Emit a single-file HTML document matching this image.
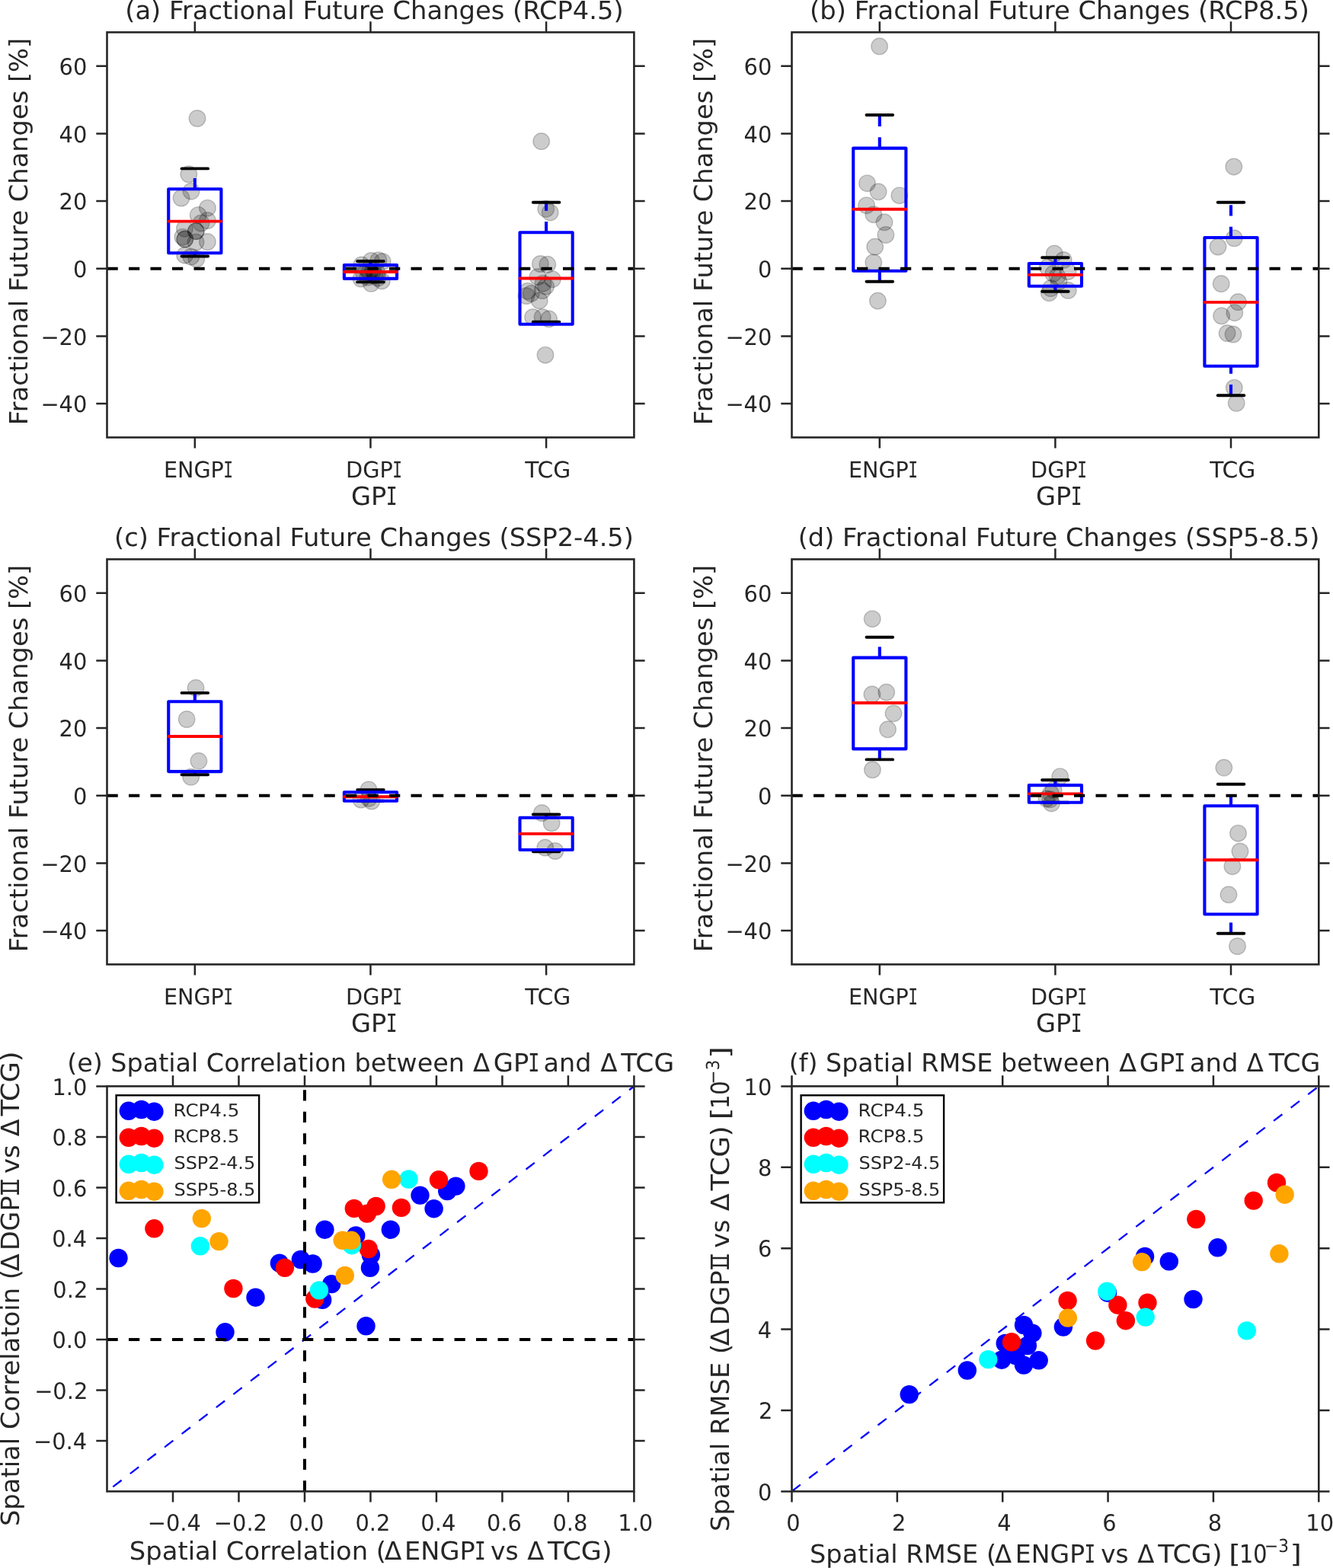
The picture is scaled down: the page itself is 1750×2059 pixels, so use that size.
<!DOCTYPE html>
<html><head><meta charset="utf-8"><title>Fractional Future Changes</title><style>html,body{margin:0;padding:0;background:#fff;}svg{display:block;}</style></head><body>
<svg width="1750" height="2059" viewBox="0 0 1750 2059" font-family="'DejaVu Sans', 'Liberation Sans', sans-serif" text-rendering="geometricPrecision">
<rect width="1750" height="2059" fill="#ffffff"/>
<defs>
<clipPath id="cA"><rect x="140.5" y="42.4" width="691.9" height="532"/></clipPath>
<clipPath id="cB"><rect x="1039.5" y="42.4" width="691.8" height="532"/></clipPath>
<clipPath id="cC"><rect x="140.5" y="734.4" width="691.9" height="532"/></clipPath>
<clipPath id="cD"><rect x="1039.5" y="734.4" width="691.8" height="532"/></clipPath>
<clipPath id="cE"><rect x="140.5" y="1426.4" width="691.9" height="532"/></clipPath>
<clipPath id="cF"><rect x="1039.5" y="1426.4" width="691.8" height="532"/></clipPath>
</defs>
<g clip-path="url(#cA)">
<circle cx="259" cy="155.5" r="10.8" fill="#000" fill-opacity="0.2" stroke="#000" stroke-opacity="0.2" stroke-width="1.4"/>
<circle cx="247.8" cy="228.8" r="10.8" fill="#000" fill-opacity="0.2" stroke="#000" stroke-opacity="0.2" stroke-width="1.4"/>
<circle cx="251" cy="251.2" r="10.8" fill="#000" fill-opacity="0.2" stroke="#000" stroke-opacity="0.2" stroke-width="1.4"/>
<circle cx="238" cy="260" r="10.8" fill="#000" fill-opacity="0.2" stroke="#000" stroke-opacity="0.2" stroke-width="1.4"/>
<circle cx="272.4" cy="273.2" r="10.8" fill="#000" fill-opacity="0.2" stroke="#000" stroke-opacity="0.2" stroke-width="1.4"/>
<circle cx="260.2" cy="282.4" r="10.8" fill="#000" fill-opacity="0.2" stroke="#000" stroke-opacity="0.2" stroke-width="1.4"/>
<circle cx="272.4" cy="289.6" r="10.8" fill="#000" fill-opacity="0.2" stroke="#000" stroke-opacity="0.2" stroke-width="1.4"/>
<circle cx="264" cy="293" r="10.8" fill="#000" fill-opacity="0.2" stroke="#000" stroke-opacity="0.2" stroke-width="1.4"/>
<circle cx="242.4" cy="300.2" r="10.8" fill="#000" fill-opacity="0.2" stroke="#000" stroke-opacity="0.2" stroke-width="1.4"/>
<circle cx="257.3" cy="303.6" r="10.8" fill="#000" fill-opacity="0.2" stroke="#000" stroke-opacity="0.2" stroke-width="1.4"/>
<circle cx="257.3" cy="303.6" r="10.8" fill="#000" fill-opacity="0.2" stroke="#000" stroke-opacity="0.2" stroke-width="1.4"/>
<circle cx="239.8" cy="311.2" r="10.8" fill="#000" fill-opacity="0.2" stroke="#000" stroke-opacity="0.2" stroke-width="1.4"/>
<circle cx="242.8" cy="314.1" r="10.8" fill="#000" fill-opacity="0.2" stroke="#000" stroke-opacity="0.2" stroke-width="1.4"/>
<circle cx="242.8" cy="314.1" r="10.8" fill="#000" fill-opacity="0.2" stroke="#000" stroke-opacity="0.2" stroke-width="1.4"/>
<circle cx="257" cy="318" r="10.8" fill="#000" fill-opacity="0.2" stroke="#000" stroke-opacity="0.2" stroke-width="1.4"/>
<circle cx="272.4" cy="317.6" r="10.8" fill="#000" fill-opacity="0.2" stroke="#000" stroke-opacity="0.2" stroke-width="1.4"/>
<circle cx="242.6" cy="335.2" r="10.8" fill="#000" fill-opacity="0.2" stroke="#000" stroke-opacity="0.2" stroke-width="1.4"/>
<circle cx="250.8" cy="337.2" r="10.8" fill="#000" fill-opacity="0.2" stroke="#000" stroke-opacity="0.2" stroke-width="1.4"/>
<circle cx="257.8" cy="340" r="10.8" fill="#000" fill-opacity="0.2" stroke="#000" stroke-opacity="0.2" stroke-width="1.4"/>
<circle cx="474.7" cy="347.9" r="10.8" fill="#000" fill-opacity="0.2" stroke="#000" stroke-opacity="0.2" stroke-width="1.4"/>
<circle cx="487.3" cy="342.4" r="10.8" fill="#000" fill-opacity="0.2" stroke="#000" stroke-opacity="0.2" stroke-width="1.4"/>
<circle cx="496.9" cy="341.7" r="10.8" fill="#000" fill-opacity="0.2" stroke="#000" stroke-opacity="0.2" stroke-width="1.4"/>
<circle cx="502.2" cy="343.5" r="10.8" fill="#000" fill-opacity="0.2" stroke="#000" stroke-opacity="0.2" stroke-width="1.4"/>
<circle cx="480" cy="352" r="10.8" fill="#000" fill-opacity="0.2" stroke="#000" stroke-opacity="0.2" stroke-width="1.4"/>
<circle cx="490" cy="355" r="10.8" fill="#000" fill-opacity="0.2" stroke="#000" stroke-opacity="0.2" stroke-width="1.4"/>
<circle cx="485" cy="358" r="10.8" fill="#000" fill-opacity="0.2" stroke="#000" stroke-opacity="0.2" stroke-width="1.4"/>
<circle cx="495" cy="358" r="10.8" fill="#000" fill-opacity="0.2" stroke="#000" stroke-opacity="0.2" stroke-width="1.4"/>
<circle cx="478" cy="360" r="10.8" fill="#000" fill-opacity="0.2" stroke="#000" stroke-opacity="0.2" stroke-width="1.4"/>
<circle cx="492" cy="362" r="10.8" fill="#000" fill-opacity="0.2" stroke="#000" stroke-opacity="0.2" stroke-width="1.4"/>
<circle cx="483" cy="364" r="10.8" fill="#000" fill-opacity="0.2" stroke="#000" stroke-opacity="0.2" stroke-width="1.4"/>
<circle cx="473.9" cy="366.1" r="10.8" fill="#000" fill-opacity="0.2" stroke="#000" stroke-opacity="0.2" stroke-width="1.4"/>
<circle cx="487.3" cy="372.3" r="10.8" fill="#000" fill-opacity="0.2" stroke="#000" stroke-opacity="0.2" stroke-width="1.4"/>
<circle cx="501.3" cy="368.9" r="10.8" fill="#000" fill-opacity="0.2" stroke="#000" stroke-opacity="0.2" stroke-width="1.4"/>
<circle cx="496" cy="365" r="10.8" fill="#000" fill-opacity="0.2" stroke="#000" stroke-opacity="0.2" stroke-width="1.4"/>
<circle cx="710.7" cy="185.6" r="10.8" fill="#000" fill-opacity="0.2" stroke="#000" stroke-opacity="0.2" stroke-width="1.4"/>
<circle cx="716.7" cy="274.3" r="10.8" fill="#000" fill-opacity="0.2" stroke="#000" stroke-opacity="0.2" stroke-width="1.4"/>
<circle cx="722.2" cy="278.9" r="10.8" fill="#000" fill-opacity="0.2" stroke="#000" stroke-opacity="0.2" stroke-width="1.4"/>
<circle cx="709.4" cy="346.5" r="10.8" fill="#000" fill-opacity="0.2" stroke="#000" stroke-opacity="0.2" stroke-width="1.4"/>
<circle cx="718.8" cy="347.3" r="10.8" fill="#000" fill-opacity="0.2" stroke="#000" stroke-opacity="0.2" stroke-width="1.4"/>
<circle cx="705.9" cy="363.6" r="10.8" fill="#000" fill-opacity="0.2" stroke="#000" stroke-opacity="0.2" stroke-width="1.4"/>
<circle cx="725.3" cy="366.7" r="10.8" fill="#000" fill-opacity="0.2" stroke="#000" stroke-opacity="0.2" stroke-width="1.4"/>
<circle cx="712.9" cy="372.2" r="10.8" fill="#000" fill-opacity="0.2" stroke="#000" stroke-opacity="0.2" stroke-width="1.4"/>
<circle cx="716.7" cy="376.1" r="10.8" fill="#000" fill-opacity="0.2" stroke="#000" stroke-opacity="0.2" stroke-width="1.4"/>
<circle cx="692.6" cy="382.3" r="10.8" fill="#000" fill-opacity="0.2" stroke="#000" stroke-opacity="0.2" stroke-width="1.4"/>
<circle cx="697.3" cy="385.4" r="10.8" fill="#000" fill-opacity="0.2" stroke="#000" stroke-opacity="0.2" stroke-width="1.4"/>
<circle cx="712.1" cy="381.5" r="10.8" fill="#000" fill-opacity="0.2" stroke="#000" stroke-opacity="0.2" stroke-width="1.4"/>
<circle cx="708.2" cy="394.7" r="10.8" fill="#000" fill-opacity="0.2" stroke="#000" stroke-opacity="0.2" stroke-width="1.4"/>
<circle cx="691.1" cy="388.5" r="10.8" fill="#000" fill-opacity="0.2" stroke="#000" stroke-opacity="0.2" stroke-width="1.4"/>
<circle cx="699.6" cy="416.5" r="10.8" fill="#000" fill-opacity="0.2" stroke="#000" stroke-opacity="0.2" stroke-width="1.4"/>
<circle cx="712.1" cy="416.5" r="10.8" fill="#000" fill-opacity="0.2" stroke="#000" stroke-opacity="0.2" stroke-width="1.4"/>
<circle cx="720.6" cy="418.8" r="10.8" fill="#000" fill-opacity="0.2" stroke="#000" stroke-opacity="0.2" stroke-width="1.4"/>
<circle cx="716" cy="466.2" r="10.8" fill="#000" fill-opacity="0.2" stroke="#000" stroke-opacity="0.2" stroke-width="1.4"/>
</g>
<path d="M255.82,248.2V221.4" stroke="#0000ff" stroke-width="4.1" stroke-dasharray="14.25 14.25" fill="none"/>
<path d="M255.82,336.5V332.2" stroke="#0000ff" stroke-width="4.1" stroke-dasharray="14.25 14.25" fill="none"/>
<path d="M238.52,221.4H273.11M238.52,336.5H273.11" stroke="#000" stroke-width="3.9" stroke-linecap="round" fill="none"/>
<rect x="221.22" y="248.2" width="69.19" height="84" fill="none" stroke="#0000ff" stroke-width="4.1" stroke-linejoin="round"/>
<path d="M221.22,290.6H290.41" stroke="#ff0000" stroke-width="3.9" stroke-linecap="round"/>
<path d="M486.45,348.1V343" stroke="#0000ff" stroke-width="4.1" stroke-dasharray="14.25 14.25" fill="none"/>
<path d="M486.45,370.4V365.9" stroke="#0000ff" stroke-width="4.1" stroke-dasharray="14.25 14.25" fill="none"/>
<path d="M469.15,343H503.75M469.15,370.4H503.75" stroke="#000" stroke-width="3.9" stroke-linecap="round" fill="none"/>
<rect x="451.86" y="348.1" width="69.19" height="17.8" fill="none" stroke="#0000ff" stroke-width="4.1" stroke-linejoin="round"/>
<path d="M451.86,357H521.04" stroke="#ff0000" stroke-width="3.9" stroke-linecap="round"/>
<path d="M717.08,305.3V265.7" stroke="#0000ff" stroke-width="4.1" stroke-dasharray="14.25 14.25" fill="none"/>
<path d="M699.79,265.7H734.38M699.79,422.7H734.38" stroke="#000" stroke-width="3.9" stroke-linecap="round" fill="none"/>
<rect x="682.49" y="305.3" width="69.19" height="120.5" fill="none" stroke="#0000ff" stroke-width="4.1" stroke-linejoin="round"/>
<path d="M682.49,365.5H751.68" stroke="#ff0000" stroke-width="3.9" stroke-linecap="round"/>
<path clip-path="url(#cA)" d="M140.5,352.73H832.4" stroke="#000" stroke-width="4" stroke-dasharray="14.25 14.25" fill="none"/>
<path d="M255.82,574.4v14.2M255.82,42.4v-14.2M486.45,574.4v14.2M486.45,42.4v-14.2M717.08,574.4v14.2M717.08,42.4v-14.2M140.5,530.07h-14.2M832.4,530.07h14.2M140.5,441.4h-14.2M832.4,441.4h14.2M140.5,352.73h-14.2M832.4,352.73h14.2M140.5,264.07h-14.2M832.4,264.07h14.2M140.5,175.4h-14.2M832.4,175.4h14.2M140.5,86.73h-14.2M832.4,86.73h14.2" stroke="#262626" stroke-width="2.5" fill="none"/>
<rect x="140.5" y="42.4" width="691.9" height="532" fill="none" stroke="#262626" stroke-width="2.6" stroke-linejoin="miter" stroke-linecap="square"/>
<g clip-path="url(#cB)">
<circle cx="1154.6" cy="60.8" r="10.8" fill="#000" fill-opacity="0.2" stroke="#000" stroke-opacity="0.2" stroke-width="1.4"/>
<circle cx="1138.5" cy="240.7" r="10.8" fill="#000" fill-opacity="0.2" stroke="#000" stroke-opacity="0.2" stroke-width="1.4"/>
<circle cx="1153.1" cy="251.8" r="10.8" fill="#000" fill-opacity="0.2" stroke="#000" stroke-opacity="0.2" stroke-width="1.4"/>
<circle cx="1180.8" cy="256.7" r="10.8" fill="#000" fill-opacity="0.2" stroke="#000" stroke-opacity="0.2" stroke-width="1.4"/>
<circle cx="1137.6" cy="269.7" r="10.8" fill="#000" fill-opacity="0.2" stroke="#000" stroke-opacity="0.2" stroke-width="1.4"/>
<circle cx="1146.8" cy="281.7" r="10.8" fill="#000" fill-opacity="0.2" stroke="#000" stroke-opacity="0.2" stroke-width="1.4"/>
<circle cx="1161" cy="291.8" r="10.8" fill="#000" fill-opacity="0.2" stroke="#000" stroke-opacity="0.2" stroke-width="1.4"/>
<circle cx="1162.9" cy="308.4" r="10.8" fill="#000" fill-opacity="0.2" stroke="#000" stroke-opacity="0.2" stroke-width="1.4"/>
<circle cx="1148.7" cy="324.1" r="10.8" fill="#000" fill-opacity="0.2" stroke="#000" stroke-opacity="0.2" stroke-width="1.4"/>
<circle cx="1146.8" cy="344.7" r="10.8" fill="#000" fill-opacity="0.2" stroke="#000" stroke-opacity="0.2" stroke-width="1.4"/>
<circle cx="1152.4" cy="395.1" r="10.8" fill="#000" fill-opacity="0.2" stroke="#000" stroke-opacity="0.2" stroke-width="1.4"/>
<circle cx="1384.2" cy="333" r="10.8" fill="#000" fill-opacity="0.2" stroke="#000" stroke-opacity="0.2" stroke-width="1.4"/>
<circle cx="1396.2" cy="341.5" r="10.8" fill="#000" fill-opacity="0.2" stroke="#000" stroke-opacity="0.2" stroke-width="1.4"/>
<circle cx="1375.3" cy="351.1" r="10.8" fill="#000" fill-opacity="0.2" stroke="#000" stroke-opacity="0.2" stroke-width="1.4"/>
<circle cx="1402" cy="356.6" r="10.8" fill="#000" fill-opacity="0.2" stroke="#000" stroke-opacity="0.2" stroke-width="1.4"/>
<circle cx="1382.8" cy="359.4" r="10.8" fill="#000" fill-opacity="0.2" stroke="#000" stroke-opacity="0.2" stroke-width="1.4"/>
<circle cx="1388" cy="363" r="10.8" fill="#000" fill-opacity="0.2" stroke="#000" stroke-opacity="0.2" stroke-width="1.4"/>
<circle cx="1379.4" cy="378.6" r="10.8" fill="#000" fill-opacity="0.2" stroke="#000" stroke-opacity="0.2" stroke-width="1.4"/>
<circle cx="1377.3" cy="384.7" r="10.8" fill="#000" fill-opacity="0.2" stroke="#000" stroke-opacity="0.2" stroke-width="1.4"/>
<circle cx="1402.3" cy="381.3" r="10.8" fill="#000" fill-opacity="0.2" stroke="#000" stroke-opacity="0.2" stroke-width="1.4"/>
<circle cx="1390" cy="370" r="10.8" fill="#000" fill-opacity="0.2" stroke="#000" stroke-opacity="0.2" stroke-width="1.4"/>
<circle cx="1619.8" cy="218.9" r="10.8" fill="#000" fill-opacity="0.2" stroke="#000" stroke-opacity="0.2" stroke-width="1.4"/>
<circle cx="1620.3" cy="312.8" r="10.8" fill="#000" fill-opacity="0.2" stroke="#000" stroke-opacity="0.2" stroke-width="1.4"/>
<circle cx="1599" cy="324" r="10.8" fill="#000" fill-opacity="0.2" stroke="#000" stroke-opacity="0.2" stroke-width="1.4"/>
<circle cx="1603.2" cy="372.6" r="10.8" fill="#000" fill-opacity="0.2" stroke="#000" stroke-opacity="0.2" stroke-width="1.4"/>
<circle cx="1625.4" cy="396.6" r="10.8" fill="#000" fill-opacity="0.2" stroke="#000" stroke-opacity="0.2" stroke-width="1.4"/>
<circle cx="1620.8" cy="410.7" r="10.8" fill="#000" fill-opacity="0.2" stroke="#000" stroke-opacity="0.2" stroke-width="1.4"/>
<circle cx="1603.6" cy="414.8" r="10.8" fill="#000" fill-opacity="0.2" stroke="#000" stroke-opacity="0.2" stroke-width="1.4"/>
<circle cx="1611.1" cy="437.6" r="10.8" fill="#000" fill-opacity="0.2" stroke="#000" stroke-opacity="0.2" stroke-width="1.4"/>
<circle cx="1619" cy="439.1" r="10.8" fill="#000" fill-opacity="0.2" stroke="#000" stroke-opacity="0.2" stroke-width="1.4"/>
<circle cx="1620.3" cy="509.2" r="10.8" fill="#000" fill-opacity="0.2" stroke="#000" stroke-opacity="0.2" stroke-width="1.4"/>
<circle cx="1623.2" cy="529.3" r="10.8" fill="#000" fill-opacity="0.2" stroke="#000" stroke-opacity="0.2" stroke-width="1.4"/>
</g>
<path d="M1154.8,194.6V151" stroke="#0000ff" stroke-width="4.1" stroke-dasharray="14.25 14.25" fill="none"/>
<path d="M1154.8,369.8V355.8" stroke="#0000ff" stroke-width="4.1" stroke-dasharray="14.25 14.25" fill="none"/>
<path d="M1137.5,151H1172.1M1137.5,369.8H1172.1" stroke="#000" stroke-width="3.9" stroke-linecap="round" fill="none"/>
<rect x="1120.21" y="194.6" width="69.18" height="161.2" fill="none" stroke="#0000ff" stroke-width="4.1" stroke-linejoin="round"/>
<path d="M1120.21,274.8H1189.39" stroke="#ff0000" stroke-width="3.9" stroke-linecap="round"/>
<path d="M1385.4,346V338.3" stroke="#0000ff" stroke-width="4.1" stroke-dasharray="14.25 14.25" fill="none"/>
<path d="M1385.4,382.8V375.8" stroke="#0000ff" stroke-width="4.1" stroke-dasharray="14.25 14.25" fill="none"/>
<path d="M1368.11,338.3H1402.7M1368.11,382.8H1402.7" stroke="#000" stroke-width="3.9" stroke-linecap="round" fill="none"/>
<rect x="1350.81" y="346" width="69.18" height="29.8" fill="none" stroke="#0000ff" stroke-width="4.1" stroke-linejoin="round"/>
<path d="M1350.81,360.9H1419.99" stroke="#ff0000" stroke-width="3.9" stroke-linecap="round"/>
<path d="M1616,312V265.7" stroke="#0000ff" stroke-width="4.1" stroke-dasharray="14.25 14.25" fill="none"/>
<path d="M1616,519.3V480.7" stroke="#0000ff" stroke-width="4.1" stroke-dasharray="14.25 14.25" fill="none"/>
<path d="M1598.7,265.7H1633.3M1598.7,519.3H1633.3" stroke="#000" stroke-width="3.9" stroke-linecap="round" fill="none"/>
<rect x="1581.41" y="312" width="69.18" height="168.7" fill="none" stroke="#0000ff" stroke-width="4.1" stroke-linejoin="round"/>
<path d="M1581.41,396.9H1650.59" stroke="#ff0000" stroke-width="3.9" stroke-linecap="round"/>
<path clip-path="url(#cB)" d="M1039.5,352.73H1731.3" stroke="#000" stroke-width="4" stroke-dasharray="14.25 14.25" fill="none"/>
<path d="M1154.8,574.4v14.2M1154.8,42.4v-14.2M1385.4,574.4v14.2M1385.4,42.4v-14.2M1616,574.4v14.2M1616,42.4v-14.2M1039.5,530.07h-14.2M1731.3,530.07h14.2M1039.5,441.4h-14.2M1731.3,441.4h14.2M1039.5,352.73h-14.2M1731.3,352.73h14.2M1039.5,264.07h-14.2M1731.3,264.07h14.2M1039.5,175.4h-14.2M1731.3,175.4h14.2M1039.5,86.73h-14.2M1731.3,86.73h14.2" stroke="#262626" stroke-width="2.5" fill="none"/>
<rect x="1039.5" y="42.4" width="691.8" height="532" fill="none" stroke="#262626" stroke-width="2.6" stroke-linejoin="miter" stroke-linecap="square"/>
<g clip-path="url(#cC)">
<circle cx="257" cy="903.3" r="10.8" fill="#000" fill-opacity="0.2" stroke="#000" stroke-opacity="0.2" stroke-width="1.4"/>
<circle cx="245.2" cy="944.5" r="10.8" fill="#000" fill-opacity="0.2" stroke="#000" stroke-opacity="0.2" stroke-width="1.4"/>
<circle cx="260.9" cy="999.3" r="10.8" fill="#000" fill-opacity="0.2" stroke="#000" stroke-opacity="0.2" stroke-width="1.4"/>
<circle cx="250.7" cy="1020.3" r="10.8" fill="#000" fill-opacity="0.2" stroke="#000" stroke-opacity="0.2" stroke-width="1.4"/>
<circle cx="484" cy="1036.9" r="10.8" fill="#000" fill-opacity="0.2" stroke="#000" stroke-opacity="0.2" stroke-width="1.4"/>
<circle cx="473.9" cy="1050" r="10.8" fill="#000" fill-opacity="0.2" stroke="#000" stroke-opacity="0.2" stroke-width="1.4"/>
<circle cx="487.9" cy="1052" r="10.8" fill="#000" fill-opacity="0.2" stroke="#000" stroke-opacity="0.2" stroke-width="1.4"/>
<circle cx="484.2" cy="1048.4" r="10.8" fill="#000" fill-opacity="0.2" stroke="#000" stroke-opacity="0.2" stroke-width="1.4"/>
<circle cx="711.4" cy="1067.5" r="10.8" fill="#000" fill-opacity="0.2" stroke="#000" stroke-opacity="0.2" stroke-width="1.4"/>
<circle cx="724.1" cy="1080.9" r="10.8" fill="#000" fill-opacity="0.2" stroke="#000" stroke-opacity="0.2" stroke-width="1.4"/>
<circle cx="715.7" cy="1113.1" r="10.8" fill="#000" fill-opacity="0.2" stroke="#000" stroke-opacity="0.2" stroke-width="1.4"/>
<circle cx="728.9" cy="1117.5" r="10.8" fill="#000" fill-opacity="0.2" stroke="#000" stroke-opacity="0.2" stroke-width="1.4"/>
</g>
<path d="M255.82,921.2V909.9" stroke="#0000ff" stroke-width="4.1" stroke-dasharray="14.25 14.25" fill="none"/>
<path d="M255.82,1017.2V1013.1" stroke="#0000ff" stroke-width="4.1" stroke-dasharray="14.25 14.25" fill="none"/>
<path d="M238.52,909.9H273.11M238.52,1017.2H273.11" stroke="#000" stroke-width="3.9" stroke-linecap="round" fill="none"/>
<rect x="221.22" y="921.2" width="69.19" height="91.9" fill="none" stroke="#0000ff" stroke-width="4.1" stroke-linejoin="round"/>
<path d="M221.22,967H290.41" stroke="#ff0000" stroke-width="3.9" stroke-linecap="round"/>
<path d="M486.45,1040.2V1037.1" stroke="#0000ff" stroke-width="4.1" stroke-dasharray="14.25 14.25" fill="none"/>
<path d="M469.15,1037.1H503.75M469.15,1051.8H503.75" stroke="#000" stroke-width="3.9" stroke-linecap="round" fill="none"/>
<rect x="451.86" y="1040.2" width="69.19" height="11.6" fill="none" stroke="#0000ff" stroke-width="4.1" stroke-linejoin="round"/>
<path d="M451.86,1046.3H521.04" stroke="#ff0000" stroke-width="3.9" stroke-linecap="round"/>
<path d="M717.08,1073.8V1069.5" stroke="#0000ff" stroke-width="4.1" stroke-dasharray="14.25 14.25" fill="none"/>
<path d="M717.08,1118.2V1116" stroke="#0000ff" stroke-width="4.1" stroke-dasharray="14.25 14.25" fill="none"/>
<path d="M699.79,1069.5H734.38M699.79,1118.2H734.38" stroke="#000" stroke-width="3.9" stroke-linecap="round" fill="none"/>
<rect x="682.49" y="1073.8" width="69.19" height="42.2" fill="none" stroke="#0000ff" stroke-width="4.1" stroke-linejoin="round"/>
<path d="M682.49,1094.9H751.68" stroke="#ff0000" stroke-width="3.9" stroke-linecap="round"/>
<path clip-path="url(#cC)" d="M140.5,1044.73H832.4" stroke="#000" stroke-width="4" stroke-dasharray="14.25 14.25" fill="none"/>
<path d="M255.82,1266.4v14.2M255.82,734.4v-14.2M486.45,1266.4v14.2M486.45,734.4v-14.2M717.08,1266.4v14.2M717.08,734.4v-14.2M140.5,1222.07h-14.2M832.4,1222.07h14.2M140.5,1133.4h-14.2M832.4,1133.4h14.2M140.5,1044.73h-14.2M832.4,1044.73h14.2M140.5,956.07h-14.2M832.4,956.07h14.2M140.5,867.4h-14.2M832.4,867.4h14.2M140.5,778.73h-14.2M832.4,778.73h14.2" stroke="#262626" stroke-width="2.5" fill="none"/>
<rect x="140.5" y="734.4" width="691.9" height="532" fill="none" stroke="#262626" stroke-width="2.6" stroke-linejoin="miter" stroke-linecap="square"/>
<g clip-path="url(#cD)">
<circle cx="1145.2" cy="812.7" r="10.8" fill="#000" fill-opacity="0.2" stroke="#000" stroke-opacity="0.2" stroke-width="1.4"/>
<circle cx="1144.9" cy="911.8" r="10.8" fill="#000" fill-opacity="0.2" stroke="#000" stroke-opacity="0.2" stroke-width="1.4"/>
<circle cx="1163.7" cy="909.1" r="10.8" fill="#000" fill-opacity="0.2" stroke="#000" stroke-opacity="0.2" stroke-width="1.4"/>
<circle cx="1173" cy="936.8" r="10.8" fill="#000" fill-opacity="0.2" stroke="#000" stroke-opacity="0.2" stroke-width="1.4"/>
<circle cx="1165.5" cy="957.8" r="10.8" fill="#000" fill-opacity="0.2" stroke="#000" stroke-opacity="0.2" stroke-width="1.4"/>
<circle cx="1145.4" cy="1010.8" r="10.8" fill="#000" fill-opacity="0.2" stroke="#000" stroke-opacity="0.2" stroke-width="1.4"/>
<circle cx="1391.7" cy="1019.7" r="10.8" fill="#000" fill-opacity="0.2" stroke="#000" stroke-opacity="0.2" stroke-width="1.4"/>
<circle cx="1383.1" cy="1037.2" r="10.8" fill="#000" fill-opacity="0.2" stroke="#000" stroke-opacity="0.2" stroke-width="1.4"/>
<circle cx="1379.4" cy="1042" r="10.8" fill="#000" fill-opacity="0.2" stroke="#000" stroke-opacity="0.2" stroke-width="1.4"/>
<circle cx="1373.9" cy="1048.9" r="10.8" fill="#000" fill-opacity="0.2" stroke="#000" stroke-opacity="0.2" stroke-width="1.4"/>
<circle cx="1378.7" cy="1049.6" r="10.8" fill="#000" fill-opacity="0.2" stroke="#000" stroke-opacity="0.2" stroke-width="1.4"/>
<circle cx="1380.4" cy="1054.9" r="10.8" fill="#000" fill-opacity="0.2" stroke="#000" stroke-opacity="0.2" stroke-width="1.4"/>
<circle cx="1606.8" cy="1008.1" r="10.8" fill="#000" fill-opacity="0.2" stroke="#000" stroke-opacity="0.2" stroke-width="1.4"/>
<circle cx="1625.5" cy="1094.2" r="10.8" fill="#000" fill-opacity="0.2" stroke="#000" stroke-opacity="0.2" stroke-width="1.4"/>
<circle cx="1628" cy="1118" r="10.8" fill="#000" fill-opacity="0.2" stroke="#000" stroke-opacity="0.2" stroke-width="1.4"/>
<circle cx="1617.9" cy="1137.7" r="10.8" fill="#000" fill-opacity="0.2" stroke="#000" stroke-opacity="0.2" stroke-width="1.4"/>
<circle cx="1613" cy="1174.8" r="10.8" fill="#000" fill-opacity="0.2" stroke="#000" stroke-opacity="0.2" stroke-width="1.4"/>
<circle cx="1624.5" cy="1242.5" r="10.8" fill="#000" fill-opacity="0.2" stroke="#000" stroke-opacity="0.2" stroke-width="1.4"/>
</g>
<path d="M1154.8,863.6V836.8" stroke="#0000ff" stroke-width="4.1" stroke-dasharray="14.25 14.25" fill="none"/>
<path d="M1154.8,997.4V983.4" stroke="#0000ff" stroke-width="4.1" stroke-dasharray="14.25 14.25" fill="none"/>
<path d="M1137.5,836.8H1172.1M1137.5,997.4H1172.1" stroke="#000" stroke-width="3.9" stroke-linecap="round" fill="none"/>
<rect x="1120.21" y="863.6" width="69.18" height="119.8" fill="none" stroke="#0000ff" stroke-width="4.1" stroke-linejoin="round"/>
<path d="M1120.21,923H1189.39" stroke="#ff0000" stroke-width="3.9" stroke-linecap="round"/>
<path d="M1385.4,1031.1V1024.3" stroke="#0000ff" stroke-width="4.1" stroke-dasharray="14.25 14.25" fill="none"/>
<path d="M1368.11,1024.3H1402.7M1368.11,1053.7H1402.7" stroke="#000" stroke-width="3.9" stroke-linecap="round" fill="none"/>
<rect x="1350.81" y="1031.1" width="69.18" height="22.6" fill="none" stroke="#0000ff" stroke-width="4.1" stroke-linejoin="round"/>
<path d="M1350.81,1042.4H1419.99" stroke="#ff0000" stroke-width="3.9" stroke-linecap="round"/>
<path d="M1616,1058.2V1029.7" stroke="#0000ff" stroke-width="4.1" stroke-dasharray="14.25 14.25" fill="none"/>
<path d="M1616,1225.7V1200.5" stroke="#0000ff" stroke-width="4.1" stroke-dasharray="14.25 14.25" fill="none"/>
<path d="M1598.7,1029.7H1633.3M1598.7,1225.7H1633.3" stroke="#000" stroke-width="3.9" stroke-linecap="round" fill="none"/>
<rect x="1581.41" y="1058.2" width="69.18" height="142.3" fill="none" stroke="#0000ff" stroke-width="4.1" stroke-linejoin="round"/>
<path d="M1581.41,1129.3H1650.59" stroke="#ff0000" stroke-width="3.9" stroke-linecap="round"/>
<path clip-path="url(#cD)" d="M1039.5,1044.73H1731.3" stroke="#000" stroke-width="4" stroke-dasharray="14.25 14.25" fill="none"/>
<path d="M1154.8,1266.4v14.2M1154.8,734.4v-14.2M1385.4,1266.4v14.2M1385.4,734.4v-14.2M1616,1266.4v14.2M1616,734.4v-14.2M1039.5,1222.07h-14.2M1731.3,1222.07h14.2M1039.5,1133.4h-14.2M1731.3,1133.4h14.2M1039.5,1044.73h-14.2M1731.3,1044.73h14.2M1039.5,956.07h-14.2M1731.3,956.07h14.2M1039.5,867.4h-14.2M1731.3,867.4h14.2M1039.5,778.73h-14.2M1731.3,778.73h14.2" stroke="#262626" stroke-width="2.5" fill="none"/>
<rect x="1039.5" y="734.4" width="691.8" height="532" fill="none" stroke="#262626" stroke-width="2.6" stroke-linejoin="miter" stroke-linecap="square"/>
<path clip-path="url(#cE)" d="M-32.47,2091.4L832.4,1426.4" stroke="#0000ff" stroke-width="2.3" stroke-dasharray="14.25 14.25" fill="none"/>
<g clip-path="url(#cE)">
<circle cx="155.5" cy="1652" r="12.2" fill="#0000ff"/>
<circle cx="335.5" cy="1703.7" r="12.2" fill="#0000ff"/>
<circle cx="295.5" cy="1749.3" r="12.2" fill="#0000ff"/>
<circle cx="366.9" cy="1658.7" r="12.2" fill="#0000ff"/>
<circle cx="394.8" cy="1654" r="12.2" fill="#0000ff"/>
<circle cx="410.6" cy="1659.5" r="12.2" fill="#0000ff"/>
<circle cx="598.4" cy="1557.6" r="12.2" fill="#0000ff"/>
<circle cx="587.2" cy="1564" r="12.2" fill="#0000ff"/>
<circle cx="551.5" cy="1569.6" r="12.2" fill="#0000ff"/>
<circle cx="569.6" cy="1587.2" r="12.2" fill="#0000ff"/>
<circle cx="426.4" cy="1614.7" r="12.2" fill="#0000ff"/>
<circle cx="512.8" cy="1614.7" r="12.2" fill="#0000ff"/>
<circle cx="467.2" cy="1622.4" r="12.2" fill="#0000ff"/>
<circle cx="486.9" cy="1648" r="12.2" fill="#0000ff"/>
<circle cx="485.9" cy="1664.8" r="12.2" fill="#0000ff"/>
<circle cx="435.2" cy="1686.1" r="12.2" fill="#0000ff"/>
<circle cx="423.2" cy="1706.9" r="12.2" fill="#0000ff"/>
<circle cx="480.5" cy="1741.3" r="12.2" fill="#0000ff"/>
<circle cx="202.4" cy="1613.3" r="12.2" fill="#ff0000"/>
<circle cx="306.4" cy="1692" r="12.2" fill="#ff0000"/>
<circle cx="373.9" cy="1664.8" r="12.2" fill="#ff0000"/>
<circle cx="576" cy="1549.3" r="12.2" fill="#ff0000"/>
<circle cx="628.5" cy="1537.9" r="12.2" fill="#ff0000"/>
<circle cx="526.9" cy="1585.9" r="12.2" fill="#ff0000"/>
<circle cx="464.8" cy="1586.9" r="12.2" fill="#ff0000"/>
<circle cx="493.6" cy="1584" r="12.2" fill="#ff0000"/>
<circle cx="481.9" cy="1593.6" r="12.2" fill="#ff0000"/>
<circle cx="483.7" cy="1640" r="12.2" fill="#ff0000"/>
<circle cx="413.3" cy="1705.6" r="12.2" fill="#ff0000"/>
<circle cx="262.9" cy="1636.3" r="12.2" fill="#00ffff"/>
<circle cx="536.5" cy="1548.5" r="12.2" fill="#00ffff"/>
<circle cx="461.9" cy="1635.2" r="12.2" fill="#00ffff"/>
<circle cx="418.9" cy="1694.4" r="12.2" fill="#00ffff"/>
<circle cx="264.8" cy="1600" r="12.2" fill="#ffa500"/>
<circle cx="287.5" cy="1630.1" r="12.2" fill="#ffa500"/>
<circle cx="514.1" cy="1548.8" r="12.2" fill="#ffa500"/>
<circle cx="449.6" cy="1628.8" r="12.2" fill="#ffa500"/>
<circle cx="461.3" cy="1628.8" r="12.2" fill="#ffa500"/>
<circle cx="452.8" cy="1674.9" r="12.2" fill="#ffa500"/>
</g>
<path clip-path="url(#cE)" d="M140.5,1758.9H832.4" stroke="#000" stroke-width="4" stroke-dasharray="14.25 14.25" fill="none"/>
<path clip-path="url(#cE)" d="M399.96,1958.4V1426.4" stroke="#000" stroke-width="4" stroke-dasharray="14.25 14.25" fill="none"/>
<path d="M226.99,1958.4v14.2M226.99,1426.4v-14.2M313.47,1958.4v14.2M313.47,1426.4v-14.2M399.96,1958.4v14.2M399.96,1426.4v-14.2M486.45,1958.4v14.2M486.45,1426.4v-14.2M572.94,1958.4v14.2M572.94,1426.4v-14.2M659.42,1958.4v14.2M659.42,1426.4v-14.2M745.91,1958.4v14.2M745.91,1426.4v-14.2M832.4,1958.4v14.2M832.4,1426.4v-14.2M140.5,1891.9h-14.2M832.4,1891.9h14.2M140.5,1825.4h-14.2M832.4,1825.4h14.2M140.5,1758.9h-14.2M832.4,1758.9h14.2M140.5,1692.4h-14.2M832.4,1692.4h14.2M140.5,1625.9h-14.2M832.4,1625.9h14.2M140.5,1559.4h-14.2M832.4,1559.4h14.2M140.5,1492.9h-14.2M832.4,1492.9h14.2M140.5,1426.4h-14.2M832.4,1426.4h14.2" stroke="#262626" stroke-width="2.5" fill="none"/>
<rect x="140.5" y="1426.4" width="691.9" height="532" fill="none" stroke="#262626" stroke-width="2.6" stroke-linejoin="miter" stroke-linecap="square"/>
<path clip-path="url(#cF)" d="M1039.5,1958.4L1731.3,1426.4" stroke="#0000ff" stroke-width="2.3" stroke-dasharray="14.25 14.25" fill="none"/>
<g clip-path="url(#cF)">
<circle cx="1193.7" cy="1831.1" r="12.2" fill="#0000ff"/>
<circle cx="1269.8" cy="1799.5" r="12.2" fill="#0000ff"/>
<circle cx="1344" cy="1740" r="12.2" fill="#0000ff"/>
<circle cx="1355.4" cy="1750.6" r="12.2" fill="#0000ff"/>
<circle cx="1319.7" cy="1764" r="12.2" fill="#0000ff"/>
<circle cx="1315.1" cy="1785.7" r="12.2" fill="#0000ff"/>
<circle cx="1344" cy="1792.6" r="12.2" fill="#0000ff"/>
<circle cx="1363.7" cy="1786.3" r="12.2" fill="#0000ff"/>
<circle cx="1348.9" cy="1767" r="12.2" fill="#0000ff"/>
<circle cx="1333.4" cy="1780" r="12.2" fill="#0000ff"/>
<circle cx="1395.9" cy="1742.5" r="12.2" fill="#0000ff"/>
<circle cx="1454.1" cy="1697.7" r="12.2" fill="#0000ff"/>
<circle cx="1503.1" cy="1649.9" r="12.2" fill="#0000ff"/>
<circle cx="1534.8" cy="1656.4" r="12.2" fill="#0000ff"/>
<circle cx="1566.5" cy="1706.1" r="12.2" fill="#0000ff"/>
<circle cx="1598.5" cy="1638.3" r="12.2" fill="#0000ff"/>
<circle cx="1328" cy="1762.3" r="12.2" fill="#ff0000"/>
<circle cx="1401.6" cy="1708" r="12.2" fill="#ff0000"/>
<circle cx="1467.4" cy="1713.7" r="12.2" fill="#ff0000"/>
<circle cx="1477.9" cy="1734.2" r="12.2" fill="#ff0000"/>
<circle cx="1506.5" cy="1710.6" r="12.2" fill="#ff0000"/>
<circle cx="1438.1" cy="1760.5" r="12.2" fill="#ff0000"/>
<circle cx="1570.3" cy="1601" r="12.2" fill="#ff0000"/>
<circle cx="1645.7" cy="1576.6" r="12.2" fill="#ff0000"/>
<circle cx="1676" cy="1553" r="12.2" fill="#ff0000"/>
<circle cx="1297.3" cy="1785.1" r="12.2" fill="#00ffff"/>
<circle cx="1453.3" cy="1695.7" r="12.2" fill="#00ffff"/>
<circle cx="1503.7" cy="1729.6" r="12.2" fill="#00ffff"/>
<circle cx="1636.8" cy="1747.4" r="12.2" fill="#00ffff"/>
<circle cx="1401.9" cy="1730.6" r="12.2" fill="#ffa500"/>
<circle cx="1499.1" cy="1657.1" r="12.2" fill="#ffa500"/>
<circle cx="1679.4" cy="1646.3" r="12.2" fill="#ffa500"/>
<circle cx="1686.7" cy="1568.7" r="12.2" fill="#ffa500"/>
</g>
<path d="M1039.5,1958.4v14.2M1039.5,1426.4v-14.2M1177.86,1958.4v14.2M1177.86,1426.4v-14.2M1316.22,1958.4v14.2M1316.22,1426.4v-14.2M1454.58,1958.4v14.2M1454.58,1426.4v-14.2M1592.94,1958.4v14.2M1592.94,1426.4v-14.2M1731.3,1958.4v14.2M1731.3,1426.4v-14.2M1039.5,1958.4h-14.2M1731.3,1958.4h14.2M1039.5,1852h-14.2M1731.3,1852h14.2M1039.5,1745.6h-14.2M1731.3,1745.6h14.2M1039.5,1639.2h-14.2M1731.3,1639.2h14.2M1039.5,1532.8h-14.2M1731.3,1532.8h14.2M1039.5,1426.4h-14.2M1731.3,1426.4h14.2" stroke="#262626" stroke-width="2.5" fill="none"/>
<rect x="1039.5" y="1426.4" width="691.8" height="532" fill="none" stroke="#262626" stroke-width="2.6" stroke-linejoin="miter" stroke-linecap="square"/>
<rect x="152.6" y="1438.3" width="187.5" height="140.9" fill="#fff" stroke="#000" stroke-width="2.4"/>
<circle cx="168.8" cy="1458.8" r="12.2" fill="#0000ff"/>
<circle cx="185.6" cy="1457" r="12.2" fill="#0000ff"/>
<circle cx="202.4" cy="1459.7" r="12.2" fill="#0000ff"/>
<text x="227.61" y="1465.6" font-size="22.92" textLength="86.72" lengthAdjust="spacingAndGlyphs" fill="#262626">RCP4.5</text>
<circle cx="168.8" cy="1493.8" r="12.2" fill="#ff0000"/>
<circle cx="185.6" cy="1492" r="12.2" fill="#ff0000"/>
<circle cx="202.4" cy="1494.7" r="12.2" fill="#ff0000"/>
<text x="227.61" y="1500.27" font-size="22.92" textLength="86.72" lengthAdjust="spacingAndGlyphs" fill="#262626">RCP8.5</text>
<circle cx="168.8" cy="1528.8" r="12.2" fill="#00ffff"/>
<circle cx="185.6" cy="1527" r="12.2" fill="#00ffff"/>
<circle cx="202.4" cy="1529.7" r="12.2" fill="#00ffff"/>
<text x="228.44" y="1534.94" font-size="22.92" textLength="106.79" lengthAdjust="spacingAndGlyphs" fill="#262626">SSP2-4.5</text>
<circle cx="168.8" cy="1563.8" r="12.2" fill="#ffa500"/>
<circle cx="185.6" cy="1562" r="12.2" fill="#ffa500"/>
<circle cx="202.4" cy="1564.7" r="12.2" fill="#ffa500"/>
<text x="228.44" y="1569.61" font-size="22.92" textLength="106.79" lengthAdjust="spacingAndGlyphs" fill="#262626">SSP5-8.5</text>
<rect x="1051.6" y="1438.3" width="187.5" height="140.9" fill="#fff" stroke="#000" stroke-width="2.4"/>
<circle cx="1067.8" cy="1458.8" r="12.2" fill="#0000ff"/>
<circle cx="1084.6" cy="1457" r="12.2" fill="#0000ff"/>
<circle cx="1101.4" cy="1459.7" r="12.2" fill="#0000ff"/>
<text x="1126.61" y="1465.6" font-size="22.92" textLength="86.72" lengthAdjust="spacingAndGlyphs" fill="#262626">RCP4.5</text>
<circle cx="1067.8" cy="1493.8" r="12.2" fill="#ff0000"/>
<circle cx="1084.6" cy="1492" r="12.2" fill="#ff0000"/>
<circle cx="1101.4" cy="1494.7" r="12.2" fill="#ff0000"/>
<text x="1126.61" y="1500.27" font-size="22.92" textLength="86.72" lengthAdjust="spacingAndGlyphs" fill="#262626">RCP8.5</text>
<circle cx="1067.8" cy="1528.8" r="12.2" fill="#00ffff"/>
<circle cx="1084.6" cy="1527" r="12.2" fill="#00ffff"/>
<circle cx="1101.4" cy="1529.7" r="12.2" fill="#00ffff"/>
<text x="1127.44" y="1534.94" font-size="22.92" textLength="106.79" lengthAdjust="spacingAndGlyphs" fill="#262626">SSP2-4.5</text>
<circle cx="1067.8" cy="1563.8" r="12.2" fill="#ffa500"/>
<circle cx="1084.6" cy="1562" r="12.2" fill="#ffa500"/>
<circle cx="1101.4" cy="1564.7" r="12.2" fill="#ffa500"/>
<text x="1127.44" y="1569.61" font-size="22.92" textLength="106.79" lengthAdjust="spacingAndGlyphs" fill="#262626">SSP5-8.5</text>
<text x="77.61" y="97.83" font-size="29.7" textLength="36.77" lengthAdjust="spacingAndGlyphs" fill="#262626">60</text>
<text x="77.61" y="186.5" font-size="29.7" textLength="36.77" lengthAdjust="spacingAndGlyphs" fill="#262626">40</text>
<text x="77.61" y="275.16" font-size="29.7" textLength="36.77" lengthAdjust="spacingAndGlyphs" fill="#262626">20</text>
<text x="96.03" y="363.83" font-size="29.7" textLength="18.39" lengthAdjust="spacingAndGlyphs" fill="#262626">0</text>
<text x="53.4" y="452.5" font-size="29.7" textLength="60.99" lengthAdjust="spacingAndGlyphs" fill="#262626">−20</text>
<text x="53.4" y="541.16" font-size="29.7" textLength="60.99" lengthAdjust="spacingAndGlyphs" fill="#262626">−40</text>
<text x="214.91" y="626.7" font-size="29.17" textLength="78.93" lengthAdjust="spacingAndGlyphs" fill="#262626">ENGP</text>
<text x="293.33" y="626.7" font-size="29.17" textLength="12.78" lengthAdjust="spacingAndGlyphs" fill="#262626" font-family="'DejaVu Sans Mono', monospace">I</text>
<text x="454.1" y="626.7" font-size="29.17" textLength="61.75" lengthAdjust="spacingAndGlyphs" fill="#262626">DGP</text>
<text x="515.33" y="626.7" font-size="29.17" textLength="12.78" lengthAdjust="spacingAndGlyphs" fill="#262626" font-family="'DejaVu Sans Mono', monospace">I</text>
<text x="689.17" y="626.7" font-size="29.17" textLength="60.29" lengthAdjust="spacingAndGlyphs" fill="#262626">TCG</text>
<text x="461.05" y="663" font-size="33" textLength="46.36" lengthAdjust="spacingAndGlyphs" fill="#262626">GP</text>
<text x="506.69" y="663" font-size="33" textLength="14.87" lengthAdjust="spacingAndGlyphs" fill="#262626" font-family="'DejaVu Sans Mono', monospace">I</text>
<text transform="translate(35.8,558.18) rotate(-90)" font-size="33" textLength="508.37" lengthAdjust="spacingAndGlyphs" fill="#262626">Fractional Future Changes [%]</text>
<text x="976.61" y="97.83" font-size="29.7" textLength="36.77" lengthAdjust="spacingAndGlyphs" fill="#262626">60</text>
<text x="976.61" y="186.5" font-size="29.7" textLength="36.77" lengthAdjust="spacingAndGlyphs" fill="#262626">40</text>
<text x="976.61" y="275.16" font-size="29.7" textLength="36.77" lengthAdjust="spacingAndGlyphs" fill="#262626">20</text>
<text x="995.03" y="363.83" font-size="29.7" textLength="18.39" lengthAdjust="spacingAndGlyphs" fill="#262626">0</text>
<text x="952.4" y="452.5" font-size="29.7" textLength="60.99" lengthAdjust="spacingAndGlyphs" fill="#262626">−20</text>
<text x="952.4" y="541.16" font-size="29.7" textLength="60.99" lengthAdjust="spacingAndGlyphs" fill="#262626">−40</text>
<text x="1113.91" y="626.7" font-size="29.17" textLength="78.93" lengthAdjust="spacingAndGlyphs" fill="#262626">ENGP</text>
<text x="1192.33" y="626.7" font-size="29.17" textLength="12.78" lengthAdjust="spacingAndGlyphs" fill="#262626" font-family="'DejaVu Sans Mono', monospace">I</text>
<text x="1353.1" y="626.7" font-size="29.17" textLength="61.75" lengthAdjust="spacingAndGlyphs" fill="#262626">DGP</text>
<text x="1414.33" y="626.7" font-size="29.17" textLength="12.78" lengthAdjust="spacingAndGlyphs" fill="#262626" font-family="'DejaVu Sans Mono', monospace">I</text>
<text x="1588.17" y="626.7" font-size="29.17" textLength="60.29" lengthAdjust="spacingAndGlyphs" fill="#262626">TCG</text>
<text x="1360.05" y="663" font-size="33" textLength="46.36" lengthAdjust="spacingAndGlyphs" fill="#262626">GP</text>
<text x="1405.69" y="663" font-size="33" textLength="14.87" lengthAdjust="spacingAndGlyphs" fill="#262626" font-family="'DejaVu Sans Mono', monospace">I</text>
<text transform="translate(934.8,558.18) rotate(-90)" font-size="33" textLength="508.37" lengthAdjust="spacingAndGlyphs" fill="#262626">Fractional Future Changes [%]</text>
<text x="77.61" y="789.83" font-size="29.7" textLength="36.77" lengthAdjust="spacingAndGlyphs" fill="#262626">60</text>
<text x="77.61" y="878.5" font-size="29.7" textLength="36.77" lengthAdjust="spacingAndGlyphs" fill="#262626">40</text>
<text x="77.61" y="967.16" font-size="29.7" textLength="36.77" lengthAdjust="spacingAndGlyphs" fill="#262626">20</text>
<text x="96.03" y="1055.83" font-size="29.7" textLength="18.39" lengthAdjust="spacingAndGlyphs" fill="#262626">0</text>
<text x="53.4" y="1144.5" font-size="29.7" textLength="60.99" lengthAdjust="spacingAndGlyphs" fill="#262626">−20</text>
<text x="53.4" y="1233.16" font-size="29.7" textLength="60.99" lengthAdjust="spacingAndGlyphs" fill="#262626">−40</text>
<text x="214.91" y="1318.7" font-size="29.17" textLength="78.93" lengthAdjust="spacingAndGlyphs" fill="#262626">ENGP</text>
<text x="293.33" y="1318.7" font-size="29.17" textLength="12.78" lengthAdjust="spacingAndGlyphs" fill="#262626" font-family="'DejaVu Sans Mono', monospace">I</text>
<text x="454.1" y="1318.7" font-size="29.17" textLength="61.75" lengthAdjust="spacingAndGlyphs" fill="#262626">DGP</text>
<text x="515.33" y="1318.7" font-size="29.17" textLength="12.78" lengthAdjust="spacingAndGlyphs" fill="#262626" font-family="'DejaVu Sans Mono', monospace">I</text>
<text x="689.17" y="1318.7" font-size="29.17" textLength="60.29" lengthAdjust="spacingAndGlyphs" fill="#262626">TCG</text>
<text x="461.05" y="1355" font-size="33" textLength="46.36" lengthAdjust="spacingAndGlyphs" fill="#262626">GP</text>
<text x="506.69" y="1355" font-size="33" textLength="14.87" lengthAdjust="spacingAndGlyphs" fill="#262626" font-family="'DejaVu Sans Mono', monospace">I</text>
<text transform="translate(35.8,1250.18) rotate(-90)" font-size="33" textLength="508.37" lengthAdjust="spacingAndGlyphs" fill="#262626">Fractional Future Changes [%]</text>
<text x="976.61" y="789.83" font-size="29.7" textLength="36.77" lengthAdjust="spacingAndGlyphs" fill="#262626">60</text>
<text x="976.61" y="878.5" font-size="29.7" textLength="36.77" lengthAdjust="spacingAndGlyphs" fill="#262626">40</text>
<text x="976.61" y="967.16" font-size="29.7" textLength="36.77" lengthAdjust="spacingAndGlyphs" fill="#262626">20</text>
<text x="995.03" y="1055.83" font-size="29.7" textLength="18.39" lengthAdjust="spacingAndGlyphs" fill="#262626">0</text>
<text x="952.4" y="1144.5" font-size="29.7" textLength="60.99" lengthAdjust="spacingAndGlyphs" fill="#262626">−20</text>
<text x="952.4" y="1233.16" font-size="29.7" textLength="60.99" lengthAdjust="spacingAndGlyphs" fill="#262626">−40</text>
<text x="1113.91" y="1318.7" font-size="29.17" textLength="78.93" lengthAdjust="spacingAndGlyphs" fill="#262626">ENGP</text>
<text x="1192.33" y="1318.7" font-size="29.17" textLength="12.78" lengthAdjust="spacingAndGlyphs" fill="#262626" font-family="'DejaVu Sans Mono', monospace">I</text>
<text x="1353.1" y="1318.7" font-size="29.17" textLength="61.75" lengthAdjust="spacingAndGlyphs" fill="#262626">DGP</text>
<text x="1414.33" y="1318.7" font-size="29.17" textLength="12.78" lengthAdjust="spacingAndGlyphs" fill="#262626" font-family="'DejaVu Sans Mono', monospace">I</text>
<text x="1588.17" y="1318.7" font-size="29.17" textLength="60.29" lengthAdjust="spacingAndGlyphs" fill="#262626">TCG</text>
<text x="1360.05" y="1355" font-size="33" textLength="46.36" lengthAdjust="spacingAndGlyphs" fill="#262626">GP</text>
<text x="1405.69" y="1355" font-size="33" textLength="14.87" lengthAdjust="spacingAndGlyphs" fill="#262626" font-family="'DejaVu Sans Mono', monospace">I</text>
<text transform="translate(934.8,1250.18) rotate(-90)" font-size="33" textLength="508.37" lengthAdjust="spacingAndGlyphs" fill="#262626">Fractional Future Changes [%]</text>
<text x="164.23" y="25" font-size="33" textLength="654.47" lengthAdjust="spacingAndGlyphs" fill="#262626">(a) Fractional Future Changes (RCP4.5)</text>
<text x="1063.13" y="25" font-size="33" textLength="655.75" lengthAdjust="spacingAndGlyphs" fill="#262626">(b) Fractional Future Changes (RCP8.5)</text>
<text x="150.14" y="717" font-size="33" textLength="681.76" lengthAdjust="spacingAndGlyphs" fill="#262626">(c) Fractional Future Changes (SSP2-4.5)</text>
<text x="1047.74" y="717" font-size="33" textLength="684.56" lengthAdjust="spacingAndGlyphs" fill="#262626">(d) Fractional Future Changes (SSP5-8.5)</text>
<text x="88.16" y="1407" font-size="33" textLength="521.72" lengthAdjust="spacingAndGlyphs" fill="#262626">(e) Spatial Correlation between</text>
<text x="621.06" y="1407" font-size="33" textLength="22.24" lengthAdjust="spacingAndGlyphs" fill="#262626">Δ</text>
<text x="647.74" y="1407" font-size="33" textLength="46.57" lengthAdjust="spacingAndGlyphs" fill="#262626">GP</text>
<text x="693.34" y="1407" font-size="33" textLength="15.16" lengthAdjust="spacingAndGlyphs" fill="#262626" font-family="'DejaVu Sans Mono', monospace">I</text>
<text x="713.6" y="1407" font-size="33" textLength="62.77" lengthAdjust="spacingAndGlyphs" fill="#262626">and</text>
<text x="788.16" y="1407" font-size="33" textLength="22.24" lengthAdjust="spacingAndGlyphs" fill="#262626">Δ</text>
<text x="815.29" y="1407" font-size="33" textLength="69.87" lengthAdjust="spacingAndGlyphs" fill="#262626">TCG</text>
<text x="1035.77" y="1407" font-size="33" textLength="422.18" lengthAdjust="spacingAndGlyphs" fill="#262626">(f) Spatial RMSE between</text>
<text x="1469.35" y="1407" font-size="33" textLength="22.96" lengthAdjust="spacingAndGlyphs" fill="#262626">Δ</text>
<text x="1495.75" y="1407" font-size="33" textLength="46.47" lengthAdjust="spacingAndGlyphs" fill="#262626">GP</text>
<text x="1541.37" y="1407" font-size="33" textLength="15.01" lengthAdjust="spacingAndGlyphs" fill="#262626" font-family="'DejaVu Sans Mono', monospace">I</text>
<text x="1561.77" y="1407" font-size="33" textLength="63.74" lengthAdjust="spacingAndGlyphs" fill="#262626">and</text>
<text x="1636.66" y="1407" font-size="33" textLength="22.14" lengthAdjust="spacingAndGlyphs" fill="#262626">Δ</text>
<text x="1665.78" y="1407" font-size="33" textLength="67.48" lengthAdjust="spacingAndGlyphs" fill="#262626">TCG</text>
<text x="193.69" y="2010.3" font-size="29.7" textLength="70.17" lengthAdjust="spacingAndGlyphs" fill="#262626">−0.4</text>
<text x="43.94" y="1903" font-size="29.7" textLength="70.17" lengthAdjust="spacingAndGlyphs" fill="#262626">−0.4</text>
<text x="280.79" y="2010.3" font-size="29.7" textLength="70.17" lengthAdjust="spacingAndGlyphs" fill="#262626">−0.2</text>
<text x="45.17" y="1836.5" font-size="29.7" textLength="70.17" lengthAdjust="spacingAndGlyphs" fill="#262626">−0.2</text>
<text x="379.49" y="2010.3" font-size="29.7" textLength="45.96" lengthAdjust="spacingAndGlyphs" fill="#262626">0.0</text>
<text x="68.43" y="1770" font-size="29.7" textLength="45.96" lengthAdjust="spacingAndGlyphs" fill="#262626">0.0</text>
<text x="466.45" y="2010.3" font-size="29.7" textLength="45.96" lengthAdjust="spacingAndGlyphs" fill="#262626">0.2</text>
<text x="69.37" y="1703.5" font-size="29.7" textLength="45.96" lengthAdjust="spacingAndGlyphs" fill="#262626">0.2</text>
<text x="552.32" y="2010.3" font-size="29.7" textLength="45.96" lengthAdjust="spacingAndGlyphs" fill="#262626">0.4</text>
<text x="68.14" y="1637" font-size="29.7" textLength="45.96" lengthAdjust="spacingAndGlyphs" fill="#262626">0.4</text>
<text x="638.91" y="2010.3" font-size="29.7" textLength="45.96" lengthAdjust="spacingAndGlyphs" fill="#262626">0.6</text>
<text x="68.36" y="1570.5" font-size="29.7" textLength="45.96" lengthAdjust="spacingAndGlyphs" fill="#262626">0.6</text>
<text x="725.47" y="2010.3" font-size="29.7" textLength="45.96" lengthAdjust="spacingAndGlyphs" fill="#262626">0.8</text>
<text x="68.5" y="1504" font-size="29.7" textLength="45.96" lengthAdjust="spacingAndGlyphs" fill="#262626">0.8</text>
<text x="811.28" y="2010.3" font-size="29.7" textLength="45.96" lengthAdjust="spacingAndGlyphs" fill="#262626">1.0</text>
<text x="68.43" y="1437.5" font-size="29.7" textLength="45.96" lengthAdjust="spacingAndGlyphs" fill="#262626">1.0</text>
<text x="1032.32" y="2010.3" font-size="29.7" textLength="18.39" lengthAdjust="spacingAndGlyphs" fill="#262626">0</text>
<text x="995.03" y="1969.5" font-size="29.7" textLength="18.39" lengthAdjust="spacingAndGlyphs" fill="#262626">0</text>
<text x="1171.05" y="2010.3" font-size="29.7" textLength="18.39" lengthAdjust="spacingAndGlyphs" fill="#262626">2</text>
<text x="995.97" y="1863.1" font-size="29.7" textLength="18.39" lengthAdjust="spacingAndGlyphs" fill="#262626">2</text>
<text x="1309.15" y="2010.3" font-size="29.7" textLength="18.39" lengthAdjust="spacingAndGlyphs" fill="#262626">4</text>
<text x="994.74" y="1756.7" font-size="29.7" textLength="18.39" lengthAdjust="spacingAndGlyphs" fill="#262626">4</text>
<text x="1447.3" y="2010.3" font-size="29.7" textLength="18.39" lengthAdjust="spacingAndGlyphs" fill="#262626">6</text>
<text x="994.96" y="1650.3" font-size="29.7" textLength="18.39" lengthAdjust="spacingAndGlyphs" fill="#262626">6</text>
<text x="1585.76" y="2010.3" font-size="29.7" textLength="18.39" lengthAdjust="spacingAndGlyphs" fill="#262626">8</text>
<text x="995.1" y="1543.9" font-size="29.7" textLength="18.39" lengthAdjust="spacingAndGlyphs" fill="#262626">8</text>
<text x="1714.26" y="2010.3" font-size="29.7" textLength="36.77" lengthAdjust="spacingAndGlyphs" fill="#262626">10</text>
<text x="976.61" y="1437.5" font-size="29.7" textLength="36.77" lengthAdjust="spacingAndGlyphs" fill="#262626">10</text>
<text x="169.8" y="2047.6" font-size="33" textLength="337.22" lengthAdjust="spacingAndGlyphs" fill="#262626">Spatial Correlation (</text>
<text x="504.65" y="2047.6" font-size="33" textLength="22.65" lengthAdjust="spacingAndGlyphs" fill="#262626">Δ</text>
<text x="531.13" y="2047.6" font-size="33" textLength="92.58" lengthAdjust="spacingAndGlyphs" fill="#262626">ENGP</text>
<text x="623.12" y="2047.6" font-size="33" textLength="14.72" lengthAdjust="spacingAndGlyphs" fill="#262626" font-family="'DejaVu Sans Mono', monospace">I</text>
<text x="644.11" y="2047.6" font-size="33" textLength="36.56" lengthAdjust="spacingAndGlyphs" fill="#262626">vs</text>
<text x="692.16" y="2047.6" font-size="33" textLength="22.24" lengthAdjust="spacingAndGlyphs" fill="#262626">Δ</text>
<text x="719.09" y="2047.6" font-size="33" textLength="84.51" lengthAdjust="spacingAndGlyphs" fill="#262626">TCG)</text>
<text transform="translate(25.4,2004.09) rotate(-90)" font-size="33" textLength="337.12" lengthAdjust="spacingAndGlyphs" fill="#262626">Spatial Correlatoin (</text>
<text transform="translate(25.4,1669.35) rotate(-90)" font-size="33" textLength="22.96" lengthAdjust="spacingAndGlyphs" fill="#262626">Δ</text>
<text transform="translate(25.4,1642.05) rotate(-90)" font-size="33" textLength="71.55" lengthAdjust="spacingAndGlyphs" fill="#262626">DGP</text>
<text transform="translate(25.4,1571.04) rotate(-90)" font-size="33" textLength="14.42" lengthAdjust="spacingAndGlyphs" fill="#262626" font-family="'DejaVu Sans Mono', monospace">I</text>
<text transform="translate(25.4,1561.24) rotate(-90)" font-size="33" textLength="14.42" lengthAdjust="spacingAndGlyphs" fill="#262626" font-family="'DejaVu Sans Mono', monospace">I</text>
<text transform="translate(25.4,1540.91) rotate(-90)" font-size="33" textLength="37.63" lengthAdjust="spacingAndGlyphs" fill="#262626">vs</text>
<text transform="translate(25.4,1492.15) rotate(-90)" font-size="33" textLength="22.75" lengthAdjust="spacingAndGlyphs" fill="#262626">Δ</text>
<text transform="translate(25.4,1465.61) rotate(-90)" font-size="33" textLength="85.13" lengthAdjust="spacingAndGlyphs" fill="#262626">TCG)</text>
<text x="1063.02" y="2052" font-size="33" textLength="244.99" lengthAdjust="spacingAndGlyphs" fill="#262626">Spatial RMSE (</text>
<text x="1306.06" y="2052" font-size="33" textLength="22.14" lengthAdjust="spacingAndGlyphs" fill="#262626">Δ</text>
<text x="1332.87" y="2052" font-size="33" textLength="91.32" lengthAdjust="spacingAndGlyphs" fill="#262626">ENGP</text>
<text x="1423.62" y="2052" font-size="33" textLength="14.72" lengthAdjust="spacingAndGlyphs" fill="#262626" font-family="'DejaVu Sans Mono', monospace">I</text>
<text x="1445.22" y="2052" font-size="33" textLength="36.45" lengthAdjust="spacingAndGlyphs" fill="#262626">vs</text>
<text x="1493.26" y="2052" font-size="33" textLength="22.14" lengthAdjust="spacingAndGlyphs" fill="#262626">Δ</text>
<text x="1520.29" y="2052" font-size="33" textLength="84.2" lengthAdjust="spacingAndGlyphs" fill="#262626">TCG)</text>
<text x="1613.02" y="2052" font-size="33" textLength="15.98" lengthAdjust="spacingAndGlyphs" fill="#262626">[</text>
<text x="1627.04" y="2052" font-size="33" textLength="36.52" lengthAdjust="spacingAndGlyphs" fill="#262626">10</text>
<text x="1693.55" y="2052" font-size="33" textLength="15.42" lengthAdjust="spacingAndGlyphs" fill="#262626">]</text>
<text x="1660.03" y="2038.3" font-size="23.45" textLength="31.88" lengthAdjust="spacingAndGlyphs" fill="#262626">−3</text>
<text transform="translate(957.3,2010.89) rotate(-90)" font-size="33" textLength="246.12" lengthAdjust="spacingAndGlyphs" fill="#262626">Spatial RMSE (</text>
<text transform="translate(957.3,1767.15) rotate(-90)" font-size="33" textLength="22.96" lengthAdjust="spacingAndGlyphs" fill="#262626">Δ</text>
<text transform="translate(957.3,1740.15) rotate(-90)" font-size="33" textLength="71.65" lengthAdjust="spacingAndGlyphs" fill="#262626">DGP</text>
<text transform="translate(957.3,1668.94) rotate(-90)" font-size="33" textLength="14.42" lengthAdjust="spacingAndGlyphs" fill="#262626" font-family="'DejaVu Sans Mono', monospace">I</text>
<text transform="translate(957.3,1659.14) rotate(-90)" font-size="33" textLength="14.42" lengthAdjust="spacingAndGlyphs" fill="#262626" font-family="'DejaVu Sans Mono', monospace">I</text>
<text transform="translate(957.3,1638.81) rotate(-90)" font-size="33" textLength="37.31" lengthAdjust="spacingAndGlyphs" fill="#262626">vs</text>
<text transform="translate(957.3,1590.25) rotate(-90)" font-size="33" textLength="22.96" lengthAdjust="spacingAndGlyphs" fill="#262626">Δ</text>
<text transform="translate(957.3,1563.51) rotate(-90)" font-size="33" textLength="85.02" lengthAdjust="spacingAndGlyphs" fill="#262626">TCG)</text>
<text transform="translate(957.3,1470.46) rotate(-90)" font-size="33" textLength="16.36" lengthAdjust="spacingAndGlyphs" fill="#262626">[</text>
<text transform="translate(957.3,1456.08) rotate(-90)" font-size="33" textLength="36.75" lengthAdjust="spacingAndGlyphs" fill="#262626">10</text>
<text transform="translate(957.3,1389.94) rotate(-90)" font-size="33" textLength="16.17" lengthAdjust="spacingAndGlyphs" fill="#262626">]</text>
<text transform="translate(943.6,1423.69) rotate(-90)" font-size="23.45" textLength="32.11" lengthAdjust="spacingAndGlyphs" fill="#262626">−3</text>
</svg>
</body></html>
